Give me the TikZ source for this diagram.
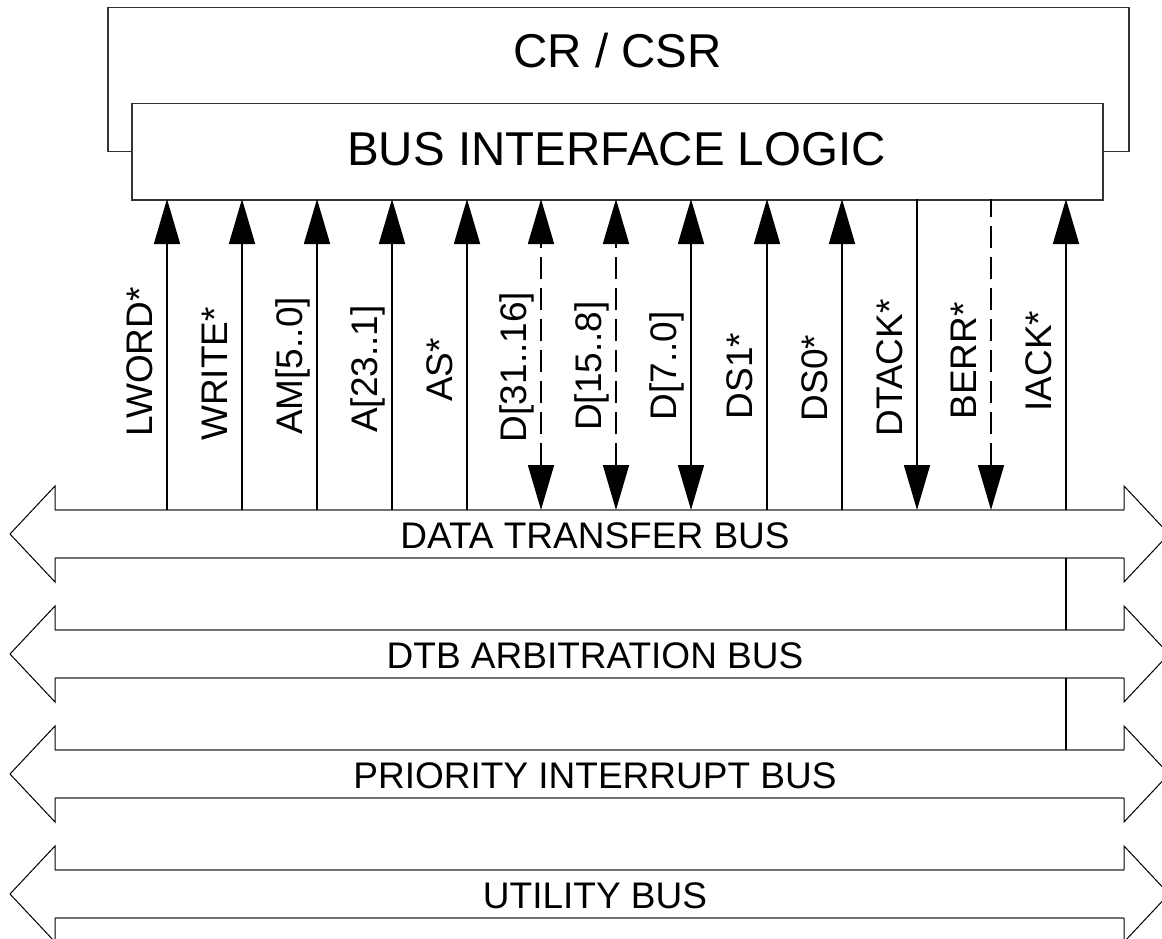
\documentclass[tikz,border=0pt]{standalone}
\usepackage{fontspec}
\setmainfont{Liberation Sans}
\usetikzlibrary{arrows.meta}
\tikzset{
  boxline/.style={draw=black!80, line width=1.5pt, fill=white, inner sep=0pt},
  boxtext/.style={font=\fontsize{47.5}{52}\selectfont, anchor=base, inner sep=0pt},
  buslabel/.style={font=\fontsize{37}{40}\selectfont, anchor=base, inner sep=0pt},
  siglabel/.style={font=\fontsize{37}{40}\selectfont, anchor=base, rotate=90, inner sep=0pt},
  busline/.style={draw=black!55, line width=1.8pt},
  busedge/.style={draw=black, line width=1pt, line join=miter},
  sig/.style={draw=black, line width=1.6pt},
  sigup/.style={sig, -{Triangle[length=45pt,width=26pt]}},
  sigdown/.style={sig, {Triangle[length=45pt,width=26pt]}-},
  sigboth/.style={sig, {Triangle[length=45pt,width=26pt]}-{Triangle[length=45pt,width=26pt]}},
  sigdash/.style={dash pattern=on 22pt off 9pt}
}
\begin{document}
\begin{tikzpicture}[x=1pt,y=-1pt]
\useasboundingbox (0,0) rectangle (1162,939);
\clip (0,0) rectangle (1162,939);

% boxes
\node[boxline, minimum width=1021pt, minimum height=144pt, anchor=north west] (csr) at (107,7) {};
\node[boxline, minimum width=971pt, minimum height=96pt, anchor=north west] (bil) at (131,103) {};
\node[boxtext] (csrtext) at (617.5,68) {CR / CSR};
\node[boxtext] (biltext) at (616.5,165) {BUS INTERFACE LOGIC};

% buses
\foreach \c/\n/\t in {534/dtb/{DATA TRANSFER BUS}, 654/arb/{DTB ARBITRATION BUS}, 774/pib/{PRIORITY INTERRUPT BUS}, 894/ub/{UTILITY BUS}} {
  \draw[busline] (55,\c-24) -- (1124,\c-24) (55,\c+24) -- (1124,\c+24);
  \draw[busedge] (55,\c-24) -- (55,\c-48) -- (10,\c) -- (55,\c+48) -- (55,\c+24)
                 (1124,\c-24) -- (1124,\c-48) -- (1169,\c) -- (1124,\c+48) -- (1124,\c+24);
  \node[buslabel] (\n) at (595,\c+14) {\t};
}

% signals
\foreach \i/\x/\t/\cy/\s/\d in {
  1/167/{LWORD*}/362/sigup/solid,
  2/242/{WRITE*}/374/sigup/solid,
  3/317/{AM[5..0]}/366/sigup/solid,
  4/392/{A[23..1]}/369/sigup/solid,
  5/467/{AS*}/370/sigup/solid,
  6/541/{D[31..16]}/367/sigboth/sigdash,
  7/616/{D[15..8]}/366/sigboth/sigdash,
  8/691/{D[7..0]}/366/sigboth/solid,
  9/767/{DS1*}/376/sigup/solid,
  10/842/{DS0*}/378/sigup/solid,
  11/917/{DTACK*}/368/sigdown/solid,
  12/991/{BERR*}/361/sigdown/sigdash,
  13/1066/{IACK*}/361/sigup/solid} {
  \coordinate (t\i) at (\x,199);
  \coordinate (b\i) at (\x,510);
  \draw[\s,\d] (b\i) -- (t\i);
  \node[siglabel] (l\i) at (\x-15,\cy) {\t};
}

% IACK daisy chain between buses
\coordinate (iack1) at (1066,558);
\coordinate (iack2) at (1066,630);
\coordinate (iack3) at (1066,678);
\coordinate (iack4) at (1066,750);
\draw[sig] (iack1) -- (iack2);
\draw[sig] (iack3) -- (iack4);
\end{tikzpicture}
\end{document}
